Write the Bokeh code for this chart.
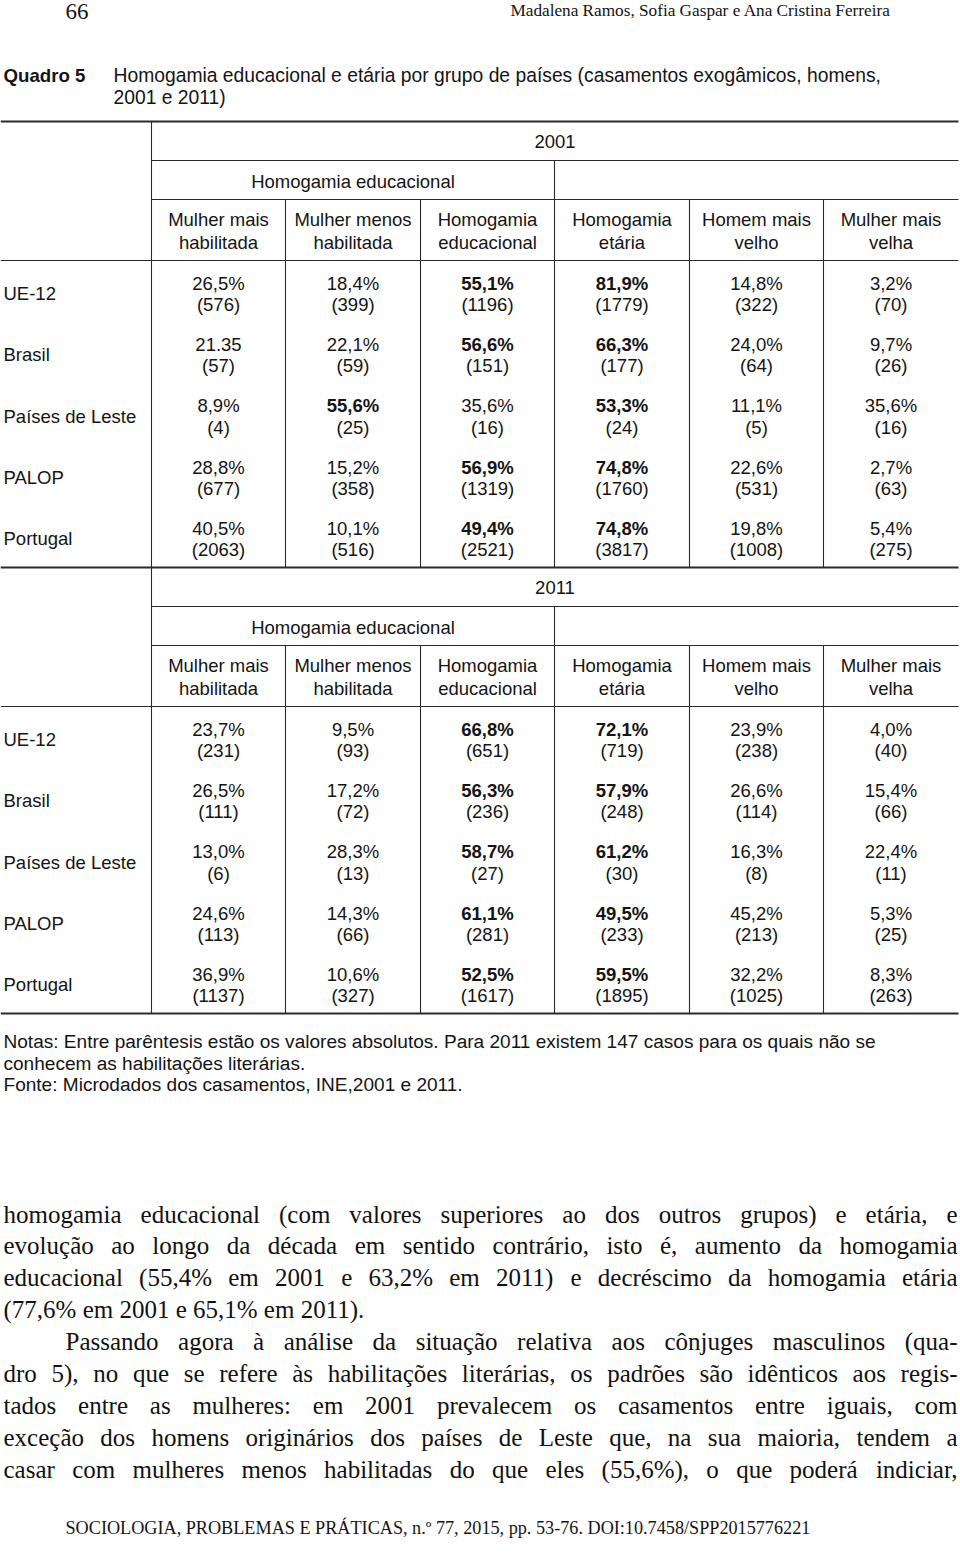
import unicodedata
from bokeh.plotting import figure
from bokeh.models import ColumnDataSource
from bokeh.core.properties import value
from bokeh.embed import file_html
from bokeh.resources import INLINE

# ---------------- data ----------------
groups = ["UE-12", "Brasil", "Países de Leste", "PALOP", "Portugal"]
years = ["2001", "2011"]
group_headers = ["Homogamia educacional", "Homogamia etária"]
col_headers = [("Mulher mais", "habilitada"), ("Mulher menos", "habilitada"),
               ("Homogamia", "educacional"), ("Homogamia", "etária"),
               ("Homem mais", "velho"), ("Mulher mais", "velha")]

pct_2001 = [
    ["26,5%", "18,4%", "55,1%", "81,9%", "14,8%", "3,2%"],
    ["21.35", "22,1%", "56,6%", "66,3%", "24,0%", "9,7%"],
    ["8,9%", "55,6%", "35,6%", "53,3%", "11,1%", "35,6%"],
    ["28,8%", "15,2%", "56,9%", "74,8%", "22,6%", "2,7%"],
    ["40,5%", "10,1%", "49,4%", "74,8%", "19,8%", "5,4%"],
]
n_2001 = [
    [576, 399, 1196, 1779, 322, 70],
    [57, 59, 151, 177, 64, 26],
    [4, 25, 16, 24, 5, 16],
    [677, 358, 1319, 1760, 531, 63],
    [2063, 516, 2521, 3817, 1008, 275],
]
pct_2011 = [
    ["23,7%", "9,5%", "66,8%", "72,1%", "23,9%", "4,0%"],
    ["26,5%", "17,2%", "56,3%", "57,9%", "26,6%", "15,4%"],
    ["13,0%", "28,3%", "58,7%", "61,2%", "16,3%", "22,4%"],
    ["24,6%", "14,3%", "61,1%", "49,5%", "45,2%", "5,3%"],
    ["36,9%", "10,6%", "52,5%", "59,5%", "32,2%", "8,3%"],
]
n_2011 = [
    [231, 93, 651, 719, 238, 40],
    [111, 72, 236, 248, 114, 66],
    [6, 13, 27, 30, 8, 11],
    [113, 66, 281, 233, 213, 25],
    [1137, 327, 1617, 1895, 1025, 263],
]

page_number = "66"
running_head = "Madalena Ramos, Sofia Gaspar e  Ana Cristina Ferreira"
table_label = "Quadro 5"
table_title = ["Homogamia educacional e etária por grupo de países (casamentos exogâmicos, homens,",
               "2001 e 2011)"]
notes = ["Notas: Entre parêntesis estão os valores absolutos. Para 2011 existem 147 casos para os quais não se",
         "conhecem as habilitações literárias.",
         "Fonte: Microdados dos casamentos, INE,2001 e 2011."]
body_lines = [
    ("homogamia educacional (com valores superiores ao dos outros grupos) e etária, e", True, 0),
    ("evolução ao longo da década em sentido contrário, isto é, aumento da homogamia", True, 0),
    ("educacional (55,4% em 2001 e 63,2% em 2011) e decréscimo da homogamia etária", True, 0),
    ("(77,6% em 2001 e 65,1% em 2011).", False, 0),
    ("Passando agora à análise da situação relativa aos cônjuges masculinos (qua-", True, 62),
    ("dro 5), no que se refere às habilitações literárias, os padrões são idênticos aos regis-", True, 0),
    ("tados entre as mulheres: em 2001 prevalecem os casamentos entre iguais, com", True, 0),
    ("exceção dos homens originários dos países de Leste que, na sua maioria, tendem a", True, 0),
    ("casar com mulheres menos habilitadas do que eles (55,6%), o que poderá indiciar,", True, 0),
]
footer = "SOCIOLOGIA, PROBLEMAS E PRÁTICAS, n.º 77, 2015, pp. 53-76. DOI:10.7458/SPP2015776221"

# ---------------- figure ----------------
p = figure(width=960, height=1563, x_range=(0, 960), y_range=(1563, 0),
           output_backend="svg", toolbar_location=None, min_border=0)
p.axis.visible = False
p.grid.visible = False
p.outline_line_color = None
p.background_fill_color = "white"
p.border_fill_color = "white"

SANS = "Liberation Sans"
SERIF = "Liberation Serif"
INK = "#141414"


def add_text(xs, ys, texts, size, font=SANS, style="normal", align="center",
             baseline="middle", color=INK):
    src = ColumnDataSource(dict(x=list(xs), y=list(ys), t=list(texts)))
    p.text(x="x", y="y", text="t", source=src, text_font=value(font),
           text_font_size=value(f"{size}px"), text_font_style=style,
           text_align=align, text_baseline=baseline, text_color=color)


def metric_table(lower, upper, digit, extra):
    t = dict(extra)
    for ch, w in zip("abcdefghijklmnopqrstuvwxyz", lower):
        t[ch] = w
    for ch, w in zip("ABCDEFGHIJKLMNOPQRSTUVWXYZ", upper):
        t[ch] = w
    for d in "0123456789":
        t[d] = digit
    return t


# Times metrics (Liberation Serif is metric compatible)
TM = metric_table(
    [444, 500, 444, 500, 444, 333, 500, 500, 278, 278, 500, 278, 778, 500, 500,
     500, 500, 333, 389, 278, 500, 500, 722, 500, 500, 444],
    [722, 667, 667, 722, 611, 556, 722, 722, 333, 389, 722, 611, 889, 722, 722,
     556, 722, 667, 556, 611, 722, 722, 944, 722, 722, 611],
    500, {' ': 250, '(': 333, ')': 333, ',': 250, '.': 250, '-': 333, '%': 833,
          ':': 278, '/': 278, 'º': 310})
# Helvetica / Arial metrics (Liberation Sans is metric compatible)
AM = metric_table(
    [556, 556, 500, 556, 556, 278, 556, 556, 222, 222, 500, 222, 833, 556, 556,
     556, 556, 333, 500, 278, 556, 500, 722, 500, 500, 500],
    [667, 667, 722, 722, 667, 611, 778, 722, 278, 500, 667, 556, 833, 722, 778,
     667, 778, 722, 667, 611, 722, 667, 944, 667, 667, 611],
    556, {' ': 278, '(': 333, ')': 333, ',': 278, '.': 278, '-': 333, '%': 889,
          ':': 278, '/': 278})
AMB = metric_table(
    [556, 611, 556, 611, 556, 333, 611, 611, 278, 278, 556, 278, 889, 611, 611,
     611, 611, 389, 556, 333, 611, 556, 778, 556, 556, 500],
    [722, 722, 722, 722, 667, 611, 778, 722, 278, 556, 722, 611, 833, 722, 778,
     667, 778, 722, 667, 611, 722, 667, 944, 667, 667, 611],
    556, {' ': 278})


def tw(s, size, table=TM):
    tot = 0
    for c in s:
        if c in table:
            tot += table[c]
        else:
            b = unicodedata.normalize("NFD", c)[0]
            tot += table.get(b, 500)
    return tot * size / 1000.0


# ---------------- table lines ----------------
col_edges = [151, 285, 420, 554, 689, 823, 958]
col_centers = [(col_edges[i] + col_edges[i + 1]) / 2 for i in range(6)]
seg = dict(x0=[], y0=[], x1=[], y1=[], w=[])


def add_seg(x0, y0, x1, y1, w):
    seg["x0"].append(x0); seg["y0"].append(y0)
    seg["x1"].append(x1); seg["y1"].append(y1); seg["w"].append(w)


blocks = [(121, pct_2001, n_2001), (567, pct_2011, n_2011)]
for bi, (T, pct, cnt) in enumerate(blocks):
    add_seg(0, T, 958, T, 2.2 if bi == 0 else 1.8)
    add_seg(151, T + 39, 958, T + 39, 1.1)
    add_seg(151, T + 78, 958, T + 78, 1.1)
    add_seg(0, T + 139, 958, T + 139, 1.1)
    add_seg(151, T, 151, T + 446, 1.1)
    add_seg(554, T + 39, 554, T + 446, 1.1)
    for xe in [285, 420, 689, 823]:
        add_seg(xe, T + 78, xe, T + 446, 1.1)
add_seg(0, 1013, 958, 1013, 2.2)

p.segment(x0="x0", y0="y0", x1="x1", y1="y1", line_width="w", line_color="#2a2a2a",
          source=ColumnDataSource(seg))

# ---------------- table texts ----------------
FS = 18.5
for bi, (T, pct, cnt) in enumerate(blocks):
    add_text([554.5], [T + 20], [years[bi]], FS)
    add_text([352.5, 756], [T + 60], group_headers, FS)
    add_text(col_centers, [T + 98] * 6, [h[0] for h in col_headers], FS)
    add_text(col_centers, [T + 121] * 6, [h[1] for h in col_headers], FS)
    row_y = [T + 161.8 + r * 61.25 for r in range(5)]
    add_text([3] * 5, [y + 10.2 for y in row_y], groups, FS, align="left")
    bx, by, bt, rx, ry, rt = [], [], [], [], [], []
    for r in range(5):
        vals = [float(s.replace("%", "").replace(",", ".")) for s in pct[r]]
        for c in range(6):
            grp = range(0, 3) if c < 3 else range(3, 6)
            is_bold = vals[c] == max(vals[g] for g in grp)
            if is_bold:
                bx.append(col_centers[c]); by.append(row_y[r]); bt.append(pct[r][c])
            else:
                rx.append(col_centers[c]); ry.append(row_y[r]); rt.append(pct[r][c])
            rx.append(col_centers[c]); ry.append(row_y[r] + 21.2); rt.append(f"({cnt[r][c]})")
    add_text(bx, by, bt, FS, style="bold")
    add_text(rx, ry, rt, FS)

# ---------------- title, notes (condensed sans in the original: fit widths) ----------------
lab_size = round(82 / tw(table_label, 1, AMB), 2)
add_text([3], [75], [table_label], lab_size, style="bold", align="left")
tt_size = round(767 / tw(table_title[0], 1, AM), 2)
add_text([113, 113], [75, 97], table_title, tt_size, align="left")
nt_size = round(874 / tw(notes[0], 1, AM), 2)
add_text([3, 3, 3], [1041, 1063, 1084], notes, nt_size, align="left")

# ---------------- running head / footer ----------------
add_text([65], [11], [page_number], 23, font=SERIF, align="left", baseline="alphabetic")
rh_size = 385 / tw(running_head, 1)
add_text([510], [10], [running_head], round(rh_size, 2), font=SERIF, align="left",
         baseline="alphabetic")
ft_size = 745 / tw(footer, 1)
add_text([65], [1527], [footer], round(ft_size, 2), font=SERIF, align="left",
         baseline="alphabetic")

# ---------------- body text (justified) ----------------
BS = 25
left_x, right_x = 3, 957
wx, wy, wt, lx, ly, lt = [], [], [], [], [], []
for i, (line, just, indent) in enumerate(body_lines):
    yb = 1213.5 + i * 31.9
    x0 = left_x + indent
    if not just:
        wx.append(x0); wy.append(yb); wt.append(line)
        continue
    words = line.split(" ")
    widths = [tw(w, BS) for w in words]
    gap = (right_x - x0 - sum(widths)) / (len(words) - 1)
    x = x0
    for k, w in enumerate(words):
        if k == len(words) - 1:
            lx.append(right_x); ly.append(yb); lt.append(w)
        else:
            wx.append(x); wy.append(yb); wt.append(w)
        x += widths[k] + gap
add_text(wx, wy, wt, BS, font=SERIF, align="left", baseline="alphabetic", color="#111111")
add_text(lx, ly, lt, BS, font=SERIF, align="right", baseline="alphabetic", color="#111111")

open("out.html", "w").write(file_html(p, INLINE))
